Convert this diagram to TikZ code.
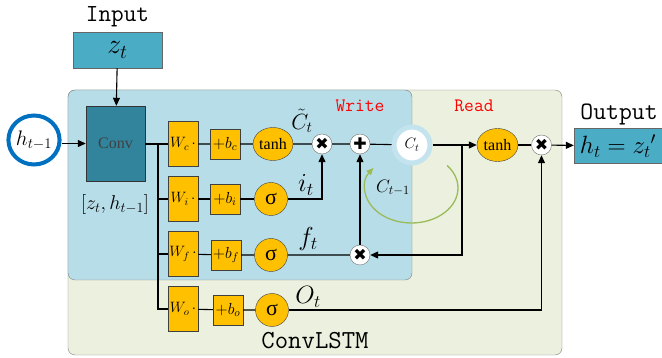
\RequirePackage{fix-cm}
\documentclass[tikz,border=0pt]{standalone}
\usepackage{fontspec}
\setmainfont{Liberation Serif}
\newfontfamily\symfont{DejaVu Sans}
\usetikzlibrary{arrows.meta,positioning,shapes.geometric}
\definecolor{cellgreen}{HTML}{EBF1DE}
\definecolor{writeblue}{HTML}{B7DDE8}
\definecolor{ioblue}{HTML}{4BACC6}
\definecolor{convteal}{HTML}{31849B}
\definecolor{gateorange}{HTML}{FFC000}
\definecolor{ringblue}{HTML}{0070C0}
\definecolor{ctring}{HTML}{C3E3EE}
\definecolor{loopgreen}{HTML}{9BBB59}

\newcommand{\fsz}[1]{\fontsize{#1}{#1}\selectfont}

\tikzset{
  wbox/.style={draw=black!75, fill=gateorange, minimum width=30pt, minimum height=45pt, inner sep=0pt, font=\fsz{15}},
  bbox/.style={draw=black!75, fill=gateorange, minimum width=30pt, minimum height=30pt, inner sep=0pt, font=\fsz{16}},
  actfun/.style={ellipse, draw=black!75, fill=gateorange, inner sep=0pt},
  opnode/.style={circle, draw=black!55, fill=white, minimum size=20pt, inner sep=0pt, font=\symfont\fsz{16}},
  iobox/.style={draw=black!60, fill=ioblue, inner sep=0pt, font=\fsz{#1}},
  wire/.style={line width=1.1pt},
  flow/.style={line width=1.1pt, -{Triangle[length=8pt,width=7pt]}},
  ttlabel/.style={font=\ttfamily\fsz{#1}},
  mathlabel/.style={font=\fsz{#1}, inner sep=0pt}
}

\begin{document}
\begin{tikzpicture}[x=1pt, y=-1pt]
  \useasboundingbox (0,0) rectangle (662,358);

  % cell and write zone
  \draw[draw=black!50, fill=cellgreen, rounded corners=7pt] (68,90) rectangle (562,355);
  \draw[draw=black!50, fill=writeblue, rounded corners=7pt] (68,90) rectangle (412,280);

  % input side
  \node[ttlabel=24.5] (inlabel) at (117.5,17) {Input};
  \node[iobox=28, minimum width=89pt, minimum height=36pt] (zin) at (117.5,50) {$z_t$};
  \node[draw=black!80, fill=convteal, minimum width=59pt, minimum height=75pt, font=\fsz{16}, text=black!75] (conv) at (115.5,143.5) {Conv};
  \node[mathlabel=20] (concat) at (115,205) {$[z_t, h_{t-1}]$};
  \node[ellipse, draw=ringblue, line width=4pt, fill=white, minimum width=43pt, minimum height=49pt, inner sep=0pt, font=\fsz{21}] (hprev) at (34,140) {$h_{t-1}$};

  % gates
  \node[wbox] (wc) at (183,144) {$W_c\,\cdot$};
  \node[wbox] (wi) at (183,199) {$W_i\,\cdot$};
  \node[wbox] (wf) at (183,254) {$W_f\,\cdot$};
  \node[wbox] (wo) at (183,309) {$W_o\,\cdot$};
  \node[bbox] (bc) at (225,144) {$+b_c$};
  \node[bbox] (bi) at (225,199) {$+b_i$};
  \node[bbox] (bf) at (226,255) {$+b_f$};
  \node[bbox] (bo) at (228,310) {$+b_o$};
  \node[actfun, minimum width=40pt, minimum height=33pt, font=\fsz{16}] (tc) at (273,144) {tanh};
  \node[actfun, minimum size=33pt, font=\fsz{22}] (si) at (271,199) {σ};
  \node[actfun, minimum size=33pt, font=\fsz{22}] (sf) at (271,255) {σ};
  \node[actfun, minimum size=33pt, font=\fsz{22}] (so) at (272,310) {σ};

  % cell state
  \node[opnode] (mulc) at (322,144) {✖};
  \node[opnode] (add) at (360,144) {✚};
  \node[opnode] (mulf) at (360,255) {✖};
  \node[circle, draw=ctring, line width=5pt, fill=white, minimum size=36pt, inner sep=0pt, font=\fsz{15}] (ct) at (412,145) {$C_t$};
  \node[actfun, minimum width=41pt, minimum height=33pt, font=\fsz{16}] (tr) at (497.5,145) {tanh};
  \node[opnode] (mulo) at (541.5,145) {✖};
  \node[iobox=25, minimum width=88pt, minimum height=35pt] (hout) at (618,146) {$h_t = {z_t}'$};
  \node[ttlabel=25] (outlabel) at (619,114) {Output};

  % labels
  \node[ttlabel=19, text=red] (wlabel) at (360,106) {Write};
  \node[ttlabel=19, text=red] (rlabel) at (474,106) {Read};
  \node[ttlabel=26] (celllabel) at (315,341) {ConvLSTM};
  \node[mathlabel=22] (ctil) at (302,121) {$\tilde{C}_t$};
  \node[mathlabel=26] (it) at (306,185) {$i_t$};
  \node[mathlabel=26] (ft) at (308,239) {$f_t$};
  \node[mathlabel=25] (ot) at (308,297) {$O_t$};
  \node[mathlabel=18] (cprev) at (393,188) {$C_{t-1}$};

  % connectors
  \coordinate (trunk) at (158,144);
  \coordinate (tap) at (462,145);
  \draw[flow] (zin) -- (conv);
  \draw[flow] (hprev.east |- conv.west) -- (conv.west);
  \draw[wire] (conv.east |- wc.west) -- (wc.west);
  \draw[wire] (trunk) |- (wo.west);
  \draw[wire] (trunk |- wi.west) -- (wi.west);
  \draw[wire] (trunk |- wf.west) -- (wf.west);
  \draw[wire] (wc) -- (bc) -- (tc) -- (mulc) -- (add) -- (ct);
  \draw[wire] (wi) -- (bi) -- (si);
  \draw[wire] (wf) -- (bf) -- (sf) -- (mulf);
  \draw[wire] (wo) -- (bo) -- (so);
  \draw[flow] (si) -| (mulc);
  \draw[flow] (mulf) -- (add);
  \draw[flow] (ct) -- (tr);
  \draw[flow] (tap) |- (mulf);
  \draw[wire] (tr) -- (mulo);
  \draw[flow] (so) -| (mulo);
  \draw[flow] (mulo) -- (hout);

  % memory loop
  \draw[loopgreen, line width=1.3pt, -{Triangle[length=7pt,width=6pt]}]
    (411.5,188) ++(-40:46.5 and 35) arc[start angle=-40, end angle=215, x radius=46.5, y radius=35];
\end{tikzpicture}
\end{document}
